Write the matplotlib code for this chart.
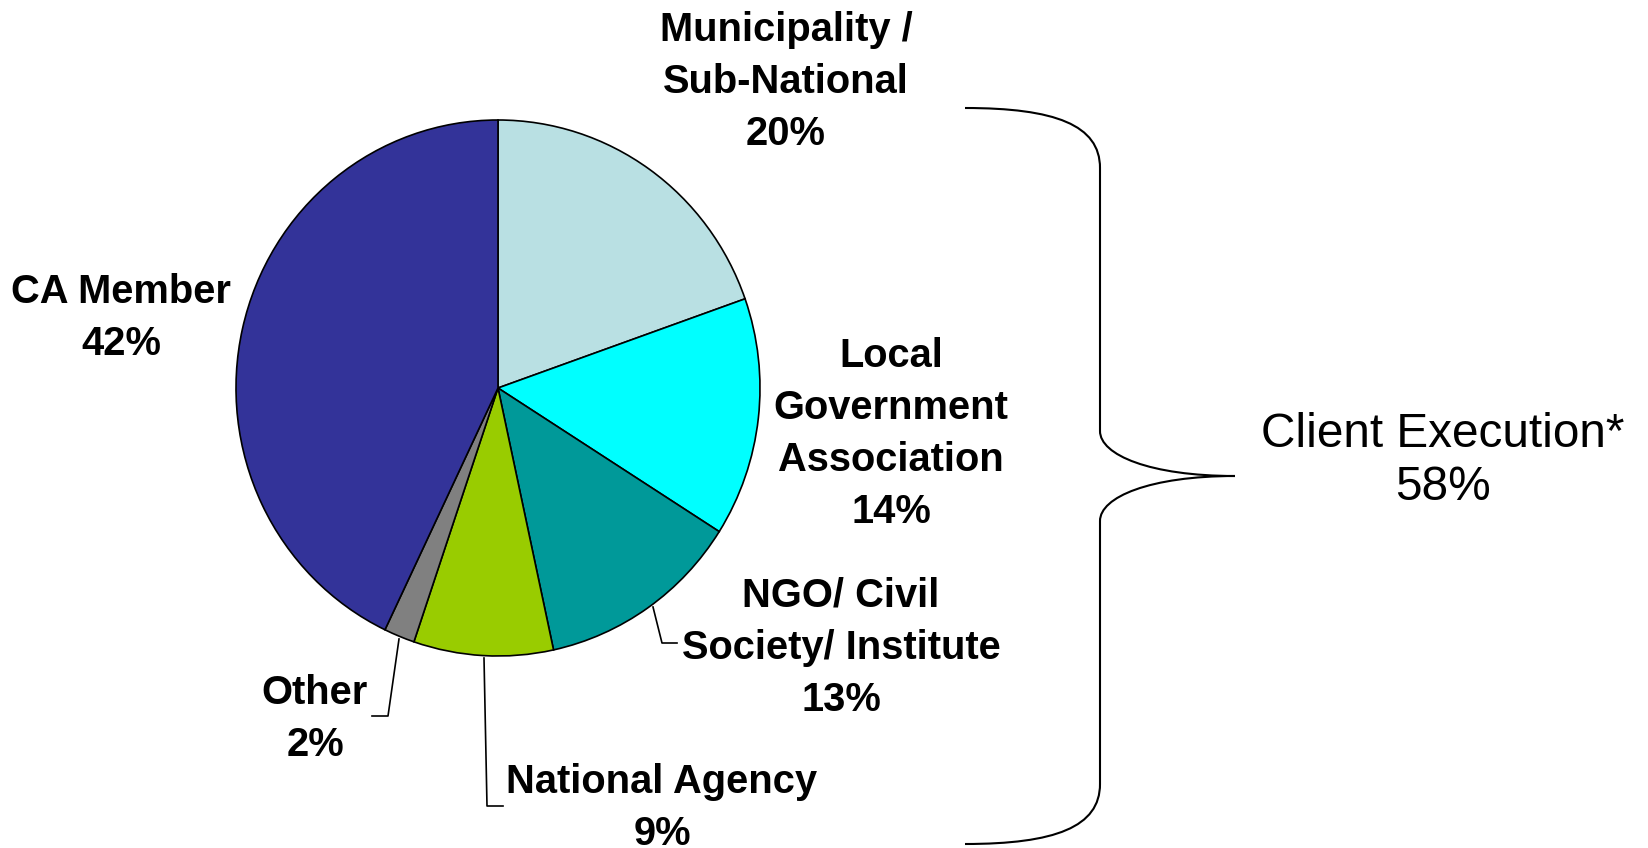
import matplotlib
matplotlib.use("Agg")
import matplotlib.pyplot as plt
from matplotlib.path import Path
from matplotlib.patches import PathPatch

plt.rcParams['font.family'] = ['Liberation Sans', 'DejaVu Sans']

categories = ["Municipality /\nSub-National", "Local\nGovernment\nAssociation",
              "NGO/ Civil\nSociety/ Institute", "National Agency", "Other", "CA Member"]
values = [19.6, 14.4, 12.6, 8.6, 1.9, 42.9]          # slice sizes as drawn
pct_labels = ["20%", "14%", "13%", "9%", "2%", "42%"]  # percentages as printed
colors = ["#B9E0E3", "#00FFFF", "#009999", "#99CC00", "#808080", "#333399"]
group_label = "Client Execution*"
group_pct = "58%"

W, H = 1648, 848
fig = plt.figure(figsize=(W / 100, H / 100), dpi=100)
ax = fig.add_axes([0, 0, 1, 1])
ax.set_xlim(0, W)
ax.set_ylim(0, H)
ax.axis("off")

def Y(y):
    return H - y

# pie in its own axes (slightly taller than wide, as in the reference)
cx, cy, rx, ry = 498, 388, 262, 268
m = 1.05
axp = fig.add_axes([(cx - rx * m) / W, (H - cy - ry * m) / H, 2 * rx * m / W, 2 * ry * m / H])
axp.pie(values, colors=colors, startangle=90, counterclock=False, radius=1,
        wedgeprops=dict(edgecolor="black", linewidth=1.2))
axp.set_aspect("auto")
axp.set_xlim(-m, m)
axp.set_ylim(-m, m)
axp.axis("off")

# labels: (x center, y center of block)
label_pos = [(786, 82), (891, 434), (841, 648), (662, 808), (315, 719), (121, 318)]
for cat, p, (x, y) in zip(categories, pct_labels, label_pos):
    ax.text(x, Y(y), f"{cat}\n{p}", ha="center", va="center", multialignment="center",
            fontsize=28.7, fontweight="bold", linespacing=1.47)

# leader lines
leaders = [
    [(653, 607), (662, 643), (677, 643)],
    [(484, 658), (487, 806), (503, 806)],
    [(399, 639), (388, 716), (372, 716)],
]
for pts in leaders:
    ax.plot([p[0] for p in pts], [Y(p[1]) for p in pts], color="black", lw=1.2)

# brace
xl, xv, xt = 965, 1100, 1235
yt, yb, ym = 108, 844, 476
verts = [
    (xl, yt), (1055, yt), (xv, 125), (xv, 168),
    (xv, 431),
    (xv, 455), (1150, ym), (xt, ym),
    (1150, ym), (xv, 497), (xv, 521),
    (xv, 784),
    (xv, 827), (1055, yb), (xl, yb),
]
codes = [Path.MOVETO, Path.CURVE4, Path.CURVE4, Path.CURVE4,
         Path.LINETO,
         Path.CURVE4, Path.CURVE4, Path.CURVE4,
         Path.CURVE4, Path.CURVE4, Path.CURVE4,
         Path.LINETO,
         Path.CURVE4, Path.CURVE4, Path.CURVE4]
verts = [(x, Y(y)) for x, y in verts]
ax.add_patch(PathPatch(Path(verts, codes), facecolor="none", edgecolor="black", lw=1.5))

ax.text(1443, Y(461), f"{group_label}\n{group_pct}", ha="center", va="center",
        multialignment="center", fontsize=34.4, linespacing=1.25)

fig.savefig("out.png", dpi=100)
